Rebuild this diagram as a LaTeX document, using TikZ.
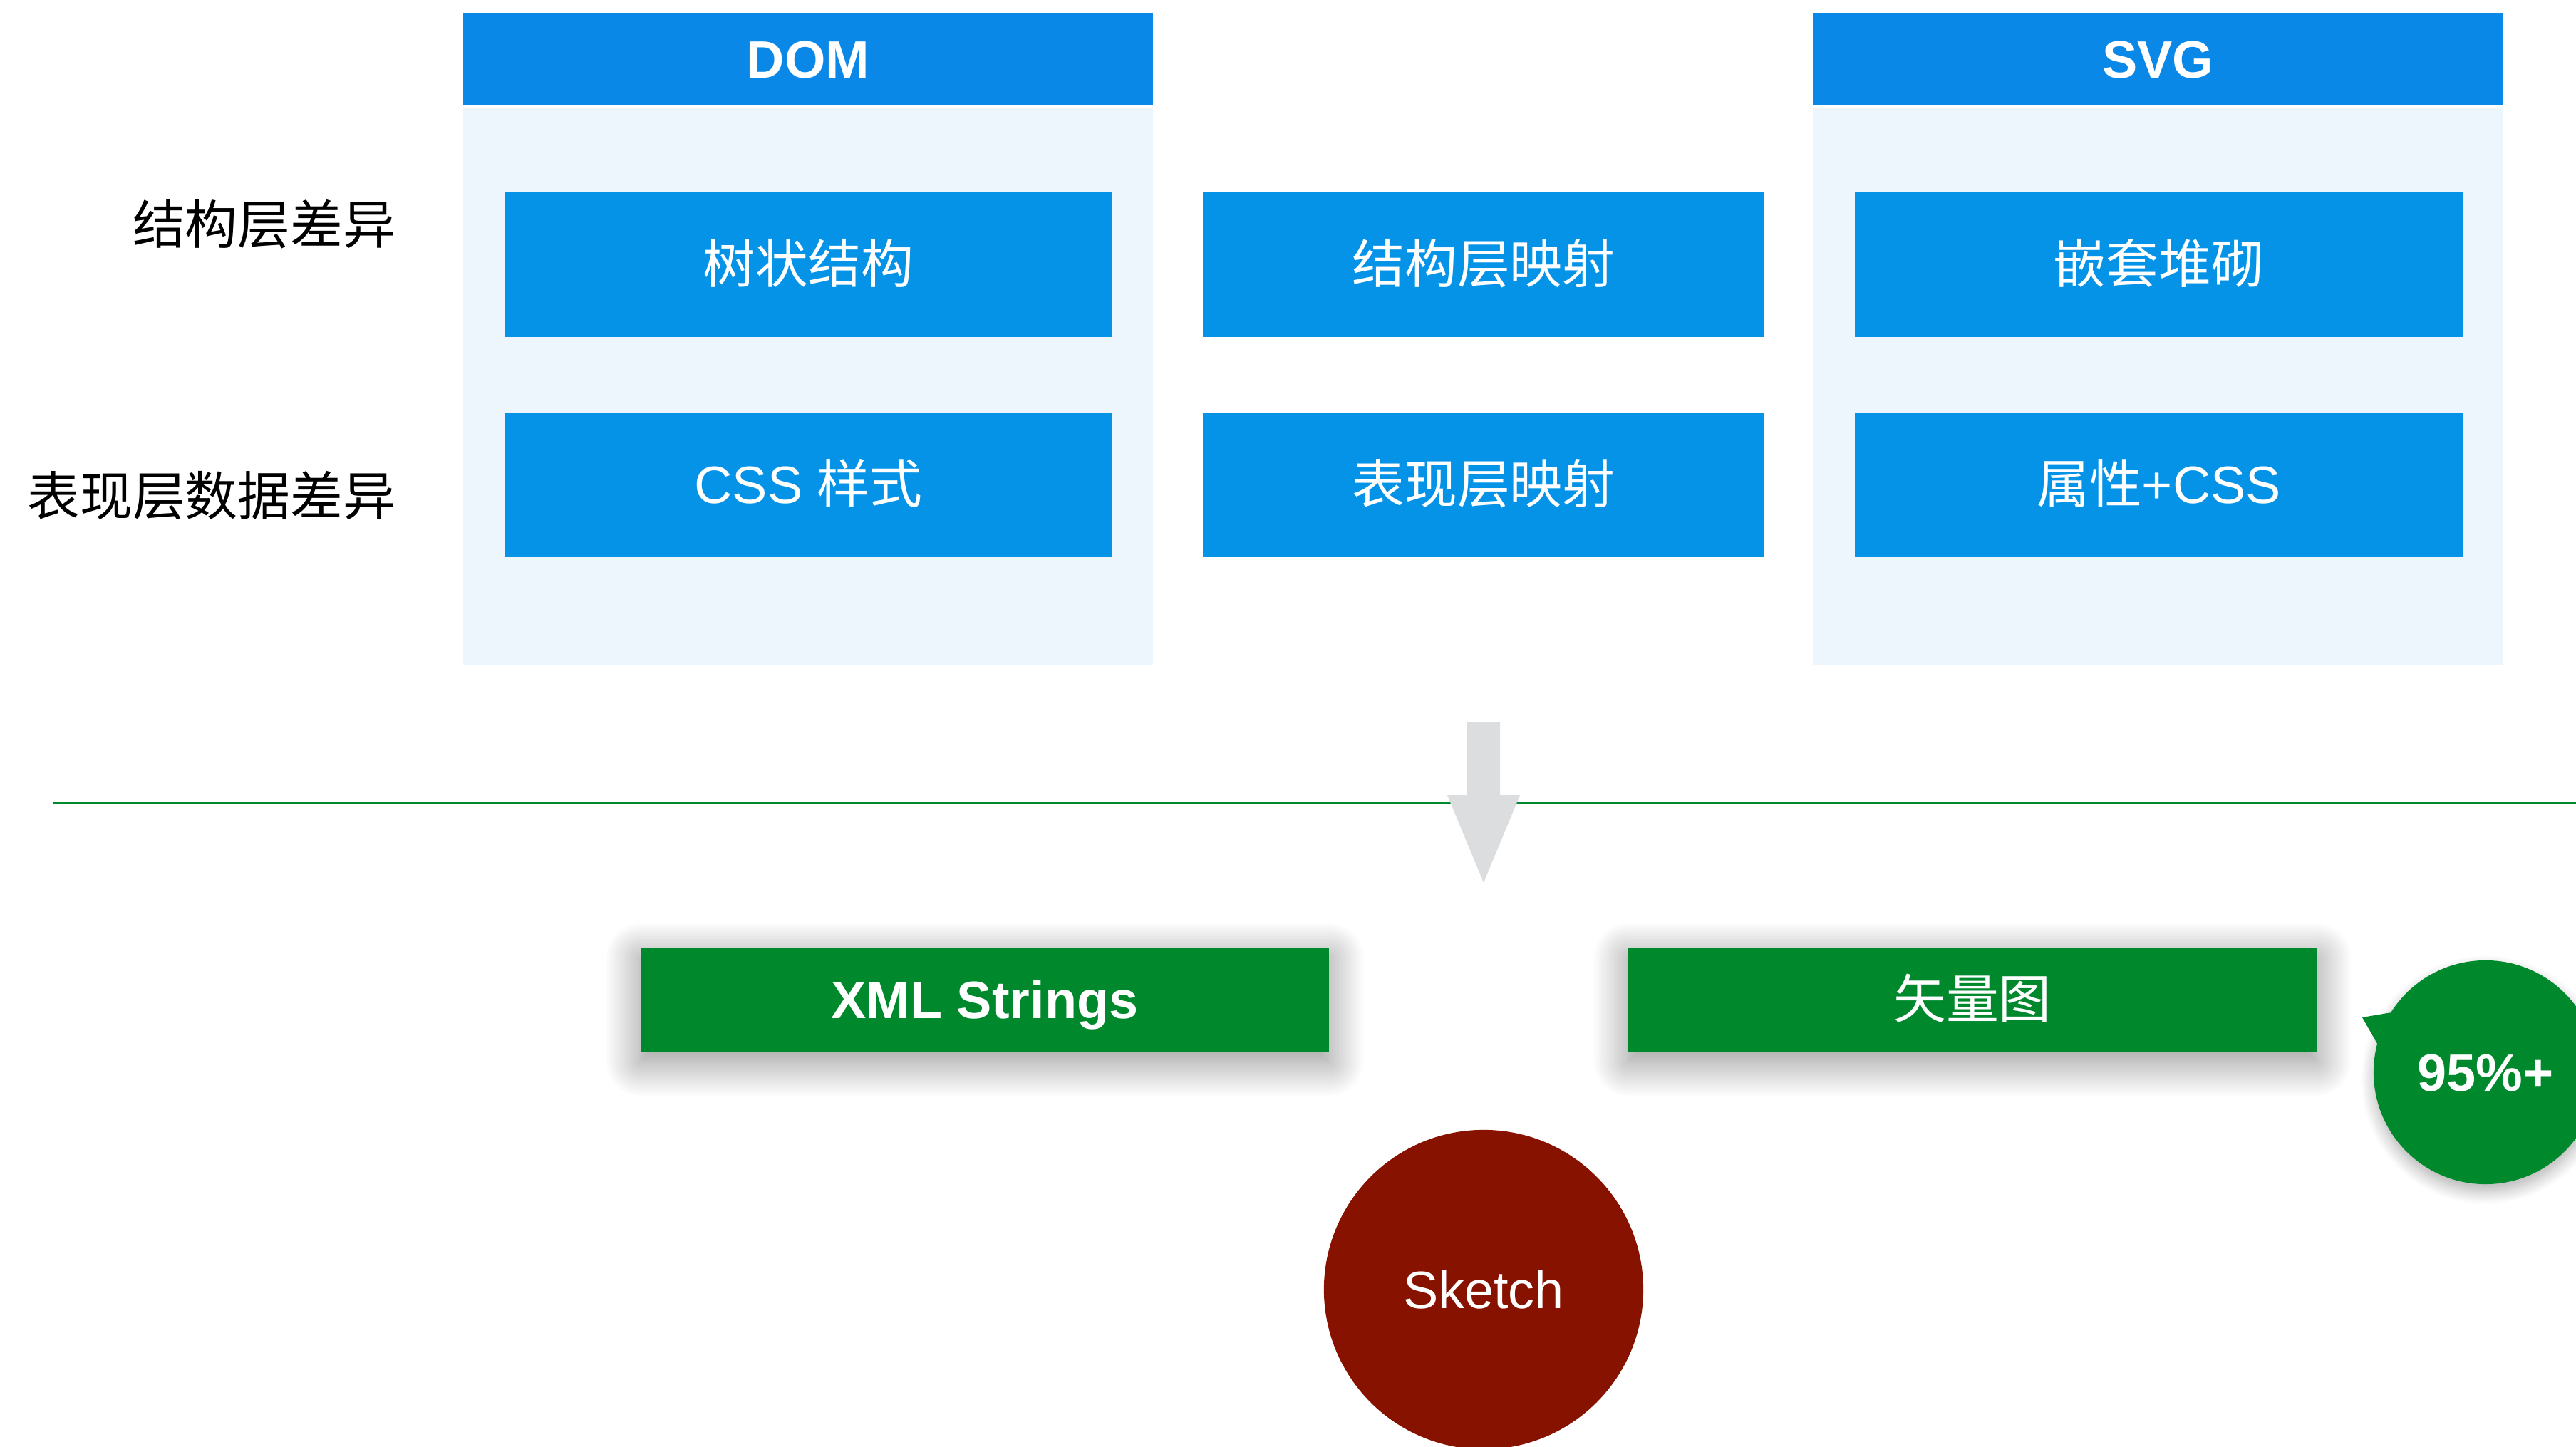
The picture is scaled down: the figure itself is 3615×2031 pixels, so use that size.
\documentclass[tikz,border=0pt]{standalone}
\usepackage{fontspec}
\setmainfont{Liberation Sans}
\newfontfamily\cjk{Noto Sans CJK SC}
\usepackage{xcolor}
\definecolor{headblue}{HTML}{0A88E8}
\definecolor{cellblue}{HTML}{0593E8}
\definecolor{panellite}{HTML}{EDF5FD}
\definecolor{flowgreen}{HTML}{00882C}
\definecolor{sketchred}{HTML}{871200}
\definecolor{arrowgrey}{HTML}{DCDDDF}
\usepackage{tikz}
\usetikzlibrary{shadows.blur}

\begin{document}
\begin{tikzpicture}[x=0.01cm,y=-0.01cm,
    txt/.style={font=\fontsize{21}{25}\selectfont,text height=15pt,text depth=0pt},
    headbox/.style={txt,fill=headblue,text=white,font=\fontsize{21}{25}\selectfont\bfseries,
                    minimum width=9.68cm,minimum height=1.30cm,inner sep=0pt},
    panelbox/.style={fill=panellite,minimum width=9.68cm,minimum height=7.82cm,inner sep=0pt},
    cellbox/.style={txt,fill=cellblue,text=white,minimum width=8.53cm,minimum height=2.03cm,inner sep=0pt},
    midbox/.style={cellbox,minimum width=7.88cm},
    rowlabel/.style={txt,anchor=east,inner sep=0pt},
    greenbox/.style={txt,fill=flowgreen,text=white,minimum width=9.66cm,minimum height=1.46cm,inner sep=0pt,
                     blur shadow={shadow xshift=0pt,shadow yshift=-4pt,shadow blur radius=14pt,
                                  shadow blur steps=24,shadow opacity=45}}]
  \useasboundingbox (0,0) rectangle (3615,2031);
  % ---------- DOM / SVG columns -----------------------------------
  \node[panelbox] (dompanel) at (1134,543) {};
  \node[headbox]  (domhead)  at (1134,83)  {DOM};
  \node[panelbox] (svgpanel) at (3028,543) {};
  \node[headbox]  (svghead)  at (3028,83)  {SVG};
  \node[cellbox] (tree)  at (1134.5,371.5) {\cjk 树状结构};
  \node[cellbox] (css)   at (1134.5,680.5) {CSS {\cjk 样式}};
  \node[midbox]  (structmap) at (2082,371.5) {\cjk 结构层映射};
  \node[midbox]  (stylemap)  at (2082,680.5) {\cjk 表现层映射};
  \node[cellbox] (nest)  at (3029.5,371.5) {\cjk 嵌套堆砌};
  \node[cellbox] (attr)  at (3029.5,680.5) {{\cjk 属性}+CSS};
  % row labels
  \node[rowlabel] (structdiff) at (556,316) {\cjk 结构层差异};
  \node[rowlabel] (stylediff)  at (556,697) {\cjk 表现层数据差异};
  % ---------- divider and down arrow ------------------------------
  \coordinate (lineL) at (74,1127);
  \coordinate (lineR) at (3615,1127);
  \draw[flowgreen,line width=0.04cm] (lineL) -- (lineR);
  \fill[arrowgrey] (2059,1013) -- (2105,1013) -- (2105,1116) -- (2133,1116)
      -- (2082,1239) -- (2031,1116) -- (2059,1116) -- cycle;
  % ---------- results ---------------------------------------------
  \node[greenbox] (xml)    at (1382,1403) {\bfseries XML Strings};
  \node[greenbox] (vector) at (2768,1403) {\cjk 矢量图};
  \node[circle,fill=flowgreen,minimum size=3.14cm,inner sep=0pt,
        blur shadow={shadow xshift=0pt,shadow yshift=-3pt,shadow blur radius=5pt,
                     shadow blur steps=12,shadow opacity=30}]
        (score) at (3488,1505) {};
  \coordinate (tailtip) at (3315,1428);
  \fill[flowgreen] (score.148) -- (tailtip) -- (score.165) -- (score.center) -- cycle;
  \node[txt,text=white,font=\fontsize{21}{25}\selectfont\bfseries] (scoretext) at (score) {95\%+};
  \node[txt,circle,fill=sketchred,text=white,minimum size=4.48cm,inner sep=0pt]
        (sketch) at (2082,1810) {Sketch};
\end{tikzpicture}
\end{document}
